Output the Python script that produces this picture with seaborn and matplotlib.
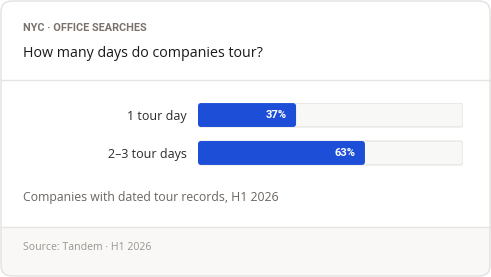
import matplotlib
matplotlib.use("Agg")
import matplotlib.pyplot as plt
from matplotlib.patches import FancyBboxPatch, Rectangle
import seaborn as sns
import pandas as pd

categories = ["1 tour day", "2–3 tour days"]
values = [37, 63]
value_labels = ["37%", "63%"]
track_max = [100, 100]
eyebrow = "NYC · OFFICE SEARCHES"
title = "How many days do companies tour?"
caption = "Companies with dated tour records, H1 2026"
source = "Source: Tandem · H1 2026"

W, H = 491, 277
sns.set_theme(style="white")
plt.rcParams["font.family"] = ["Open Sans", "DejaVu Sans"]

fig = plt.figure(figsize=(W / 100, H / 100), dpi=100)
fig.patch.set_facecolor("white")

def fx(px):
    return px / W

def fy(py):
    return 1 - py / H

# card
card = FancyBboxPatch((fx(1), fy(276)), fx(489), 275 / H,
                      boxstyle="round,pad=0,rounding_size=0.022",
                      mutation_aspect=W / H,
                      transform=fig.transFigure, facecolor="white",
                      edgecolor="none", zorder=-3)
fig.patches.append(card)
footer = Rectangle((0, fy(277)), 1, 50.5 / H, transform=fig.transFigure,
                   facecolor="#f9f8f6", edgecolor="none", zorder=-2)
fig.patches.append(footer)
footer.set_clip_path(card)
border = FancyBboxPatch((fx(1), fy(276)), fx(489), 275 / H,
                        boxstyle="round,pad=0,rounding_size=0.022",
                        mutation_aspect=W / H,
                        transform=fig.transFigure, facecolor="none",
                        edgecolor="#e3e1de", linewidth=1.0, zorder=3)
fig.patches.append(border)
for yy in (79.5, 226.5):
    fig.add_artist(plt.Line2D([fx(1), fx(490)], [fy(yy), fy(yy)],
                              transform=fig.transFigure, color="#e6e4e1",
                              linewidth=1.0, zorder=2))

fig.text(fx(23), fy(31), eyebrow, fontsize=7.8, fontweight="bold",
         color="#7a716a", va="baseline", ha="left",
         family=["Roboto", "DejaVu Sans"])
fig.text(fx(23), fy(57), title, fontsize=10.3, color="#1a1a1a",
         va="baseline", ha="left")
fig.text(fx(23), fy(201), caption, fontsize=8.85, color="#6b6560",
         va="baseline", ha="left")
fig.text(fx(23), fy(250), source, fontsize=7.6, color="#9b958f",
         va="baseline", ha="left")

# bars
ax = fig.add_axes([fx(198), fy(165.5), (463 - 198) / W, 63 / H])
ax.set_zorder(1)
ax.set_facecolor("none")
df = pd.DataFrame({"category": categories, "value": values, "track": track_max})
sns.barplot(data=df, x="track", y="category", color="#f8f8f6",
            width=0.63, ax=ax, orient="h", saturation=1)
n_track = len(ax.patches)
sns.barplot(data=df, x="value", y="category", color="#1d4ed8",
            width=0.63, ax=ax, orient="h", saturation=1)
ax.set_xlim(0, 100)
ax.set_ylim(1.33, -0.33)

# replace rectangles with rounded ones
rad_x = 3 * 100 / 265
rad_y = 3 / 38
patches = list(ax.patches)
for i, p in enumerate(patches):
    x0, y0, w, h = p.get_x(), p.get_y(), p.get_width(), p.get_height()
    is_track = i < n_track
    rp = FancyBboxPatch((x0, y0), w, h,
                        boxstyle=f"round,pad=0,rounding_size={rad_x}",
                        mutation_aspect=rad_y / rad_x,
                        facecolor=p.get_facecolor(),
                        edgecolor="#e6e5e2" if is_track else "none",
                        linewidth=0.9 if is_track else 0,
                        zorder=1 if is_track else 2)
    p.remove()
    ax.add_patch(rp)

for i, (v, lab) in enumerate(zip(values, value_labels)):
    ax.annotate(lab, xy=(v, i), xytext=(-6.5, 0), textcoords="offset points",
                ha="right", va="center", color="white", fontsize=8.0,
                fontweight="bold", zorder=3, family=["Roboto", "DejaVu Sans"])

ax.set_xlabel("")
ax.set_ylabel("")
ax.set_xticks([])
ax.tick_params(axis="y", length=0, pad=8, labelsize=9.0, labelcolor="#2b2b2b")
for s in ax.spines.values():
    s.set_visible(False)

fig.savefig("out.png", dpi=100, facecolor="white")
